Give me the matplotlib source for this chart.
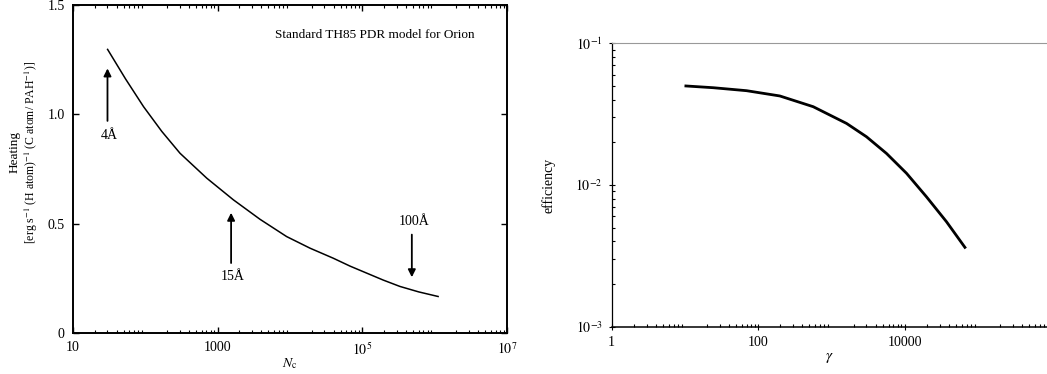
"""Two-panel figure: PAH heating vs N_c (left), heating efficiency vs gamma (right)."""

import matplotlib

matplotlib.use("Agg")
import matplotlib.pyplot as plt
import numpy as np
from matplotlib.ticker import LogLocator, NullFormatter

# ==============================================================================
# DATA
# ==============================================================================

# Left panel: heating curve
nc_values = [30.1, 53.3, 94.6, 169, 302, 708, 1652, 3855, 8995, 18920, 39720,
             67610, 114800, 195000, 331100, 602600, 1117000]
heating_values = [1.297, 1.162, 1.035, 0.922, 0.822, 0.708, 0.609, 0.520, 0.441,
                  0.388, 0.342, 0.306, 0.274, 0.242, 0.213, 0.188, 0.167]

# Size markers (arrows): label, N_c, arrow tail y, arrow head y, label y
size_labels = ["4Å", "15Å", "100Å"]
size_nc = [30, 1535, 484000]
size_tail = [0.97, 0.32, 0.45]
size_head = [1.21, 0.55, 0.255]
size_text_y = [0.905, 0.258, 0.51]

left_xticks = [10, 1000, 1e5, 1e7]
left_xticklabels = ["10", "1000", r"$10^5$", r"$10^7$"]
left_yticks = [0, 0.5, 1.0, 1.5]
left_yticklabels = ["0", "0.5", "1.0", "1.5"]

# Right panel: efficiency curve
gamma_values = [10.3, 24.3, 69.3, 197, 562, 1603, 3000, 5623, 10540, 19720, 36980, 66070]
efficiency_values = [0.0500, 0.0486, 0.0463, 0.0425, 0.0357, 0.0272, 0.0219, 0.0167,
                     0.0121, 0.00826, 0.00551, 0.00363]

right_xticks = [1, 100, 10000]
right_xticklabels = ["1", "100", "10000"]
right_yticks = [1e-3, 1e-2, 1e-1]
right_yticklabels = [r"$10^{-3}$", r"$10^{-2}$", r"$10^{-1}$"]

# ==============================================================================
# STYLE
# ==============================================================================

plt.rcParams.update({
    "font.family": ["Liberation Serif", "DejaVu Serif"],
    "mathtext.fontset": "stix",
    "font.size": 9,
})


def plot_heating(ax):
    ax.plot(nc_values, heating_values, color="black", lw=1.1)
    ax.set_xscale("log")
    ax.set_xlim(10, 1e7)
    ax.set_ylim(0, 1.5)

    for label, x, y0, y1, ty in zip(size_labels, size_nc, size_tail, size_head, size_text_y):
        ax.annotate("", xy=(x, y1), xytext=(x, y0),
                    arrowprops=dict(arrowstyle="-|>", color="black", lw=1.3,
                                    mutation_scale=11, shrinkA=0, shrinkB=0))
        ax.text(x * 1.06, ty, label, ha="center", va="center", fontsize=10)

    ax.text(0.696, 0.909, "Standard TH85 PDR model for Orion", transform=ax.transAxes,
            ha="center", va="center", fontsize=9.5)

    ax.set_xticks(left_xticks)
    ax.set_xticklabels(left_xticklabels)
    ax.xaxis.set_minor_locator(LogLocator(base=10, subs=np.arange(2, 10), numticks=20))
    ax.xaxis.set_minor_formatter(NullFormatter())
    ax.set_yticks(left_yticks)
    ax.set_yticklabels(left_yticklabels)
    ax.tick_params(which="both", direction="in", top=True, right=True, labelsize=10, pad=6)
    ax.tick_params(which="major", length=4, width=1.0)
    ax.tick_params(which="minor", length=2.5, width=0.8)
    for spine in ax.spines.values():
        spine.set_linewidth(1.4)

    ax.set_xlabel(r"$N_{\rm c}$", fontsize=10, labelpad=-1)
    ax.text(-0.135, 0.552, "Heating", transform=ax.transAxes, rotation=90,
            ha="center", va="center", fontsize=9.5)
    ax.text(-0.097, 0.552, r"[erg s$^{-1}$ (H atom)$^{-1}$ (C atom/ PAH$^{-1}$)]",
            transform=ax.transAxes, rotation=90, ha="center", va="center", fontsize=8.5)


def plot_efficiency(ax):
    ax.plot(gamma_values, efficiency_values, color="black", lw=2.0)
    ax.set_xscale("log")
    ax.set_yscale("log")
    ax.set_xlim(1, 10 ** 5.94)
    ax.set_ylim(1e-3, 1e-1)

    ax.set_xticks(right_xticks)
    ax.set_xticklabels(right_xticklabels)
    ax.xaxis.set_minor_locator(LogLocator(base=10, subs=np.arange(2, 10), numticks=20))
    ax.xaxis.set_minor_formatter(NullFormatter())
    ax.set_yticks(right_yticks)
    ax.set_yticklabels(right_yticklabels)
    ax.yaxis.set_minor_locator(LogLocator(base=10, subs=np.arange(2, 10), numticks=20))
    ax.yaxis.set_minor_formatter(NullFormatter())
    ax.tick_params(which="major", direction="inout", length=5, width=0.8, labelsize=10, pad=4)
    ax.tick_params(which="minor", direction="in", length=2.5, width=0.8)

    ax.spines["right"].set_visible(False)
    ax.spines["top"].set_color("#999999")
    ax.spines["left"].set_linewidth(0.9)
    ax.spines["bottom"].set_linewidth(1.1)

    ax.set_xlabel(r"$\gamma$", fontsize=11, labelpad=2)
    ax.set_ylabel("efficiency", fontsize=10, labelpad=14)


def main():
    fig = plt.figure(figsize=(10.47, 3.74), dpi=100)
    ax_left = fig.add_axes([0.0697, 0.1096, 0.4145, 0.877])
    ax_right = fig.add_axes([0.5842, 0.1265, 0.4158, 0.7577])
    plot_heating(ax_left)
    plot_efficiency(ax_right)
    fig.savefig("out.png", dpi=100)
    plt.close(fig)


if __name__ == "__main__":
    main()
